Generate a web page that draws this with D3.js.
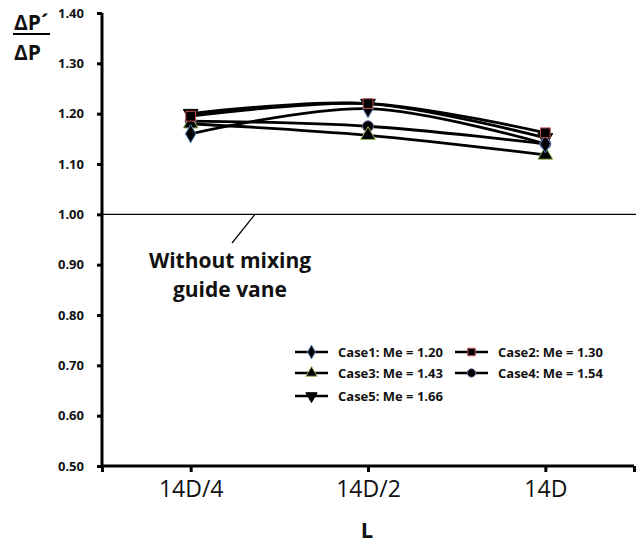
<!DOCTYPE html>
<html>
<head>
<meta charset="utf-8">
<script src="https://cdn.jsdelivr.net/npm/d3@7"></script>
<style>
body { margin: 0; background: #fff; }
svg text { font-family: "Open Sans", Lato, sans-serif; font-weight: bold; fill: #111; }
</style>
</head>
<body>
<div id="chart"></div>
<script>
//Width and height
var width = 636, height = 544;

//Data
var categories = ["14D/4", "14D/2", "14D"];
var yTicks = [0.5, 0.6, 0.7, 0.8, 0.9, 1.0, 1.1, 1.2, 1.3, 1.4];
var case1 = [1.16, 1.21, 1.14];
var case2 = [1.195, 1.22, 1.162];
var case3 = [1.18, 1.157, 1.118];
var case4 = [1.185, 1.175, 1.14];
var case5 = [1.20, 1.22, 1.152];
var seriesNames = ["Case1: Me = 1.20", "Case2: Me = 1.30", "Case3: Me = 1.43", "Case4: Me = 1.54", "Case5: Me = 1.66"];
var seriesValues = [case1, case2, case3, case4, case5];
var markerTypes = [d3.symbolDiamond, d3.symbolSquare, d3.symbolTriangle, d3.symbolCircle, "down"];
var markerEdges = ["#4f81bd", "#c0504d", "#9bbb59", "#8064a2", "#000"];
var baseline = 1.0;

var svg = d3.select("#chart")
            .append("svg")
            .attr("width", width)
            .attr("height", height);

//scales
var x = d3.scaleLinear().domain([0.5, 3.5]).range([102, 634]);
var y = d3.scaleLinear().domain([0.5, 1.4]).range([466, 13]);

//y axis
var yAxis = svg.append("g")
    .attr("transform", "translate(102,0)")
    .call(d3.axisLeft(y).tickValues(yTicks).tickFormat(d3.format(".2f")).tickSize(5).tickPadding(13));
yAxis.select(".domain").attr("stroke-width", 3).attr("d", "M0," + y(1.4) + "V" + y(0.5));
yAxis.selectAll(".tick line").attr("stroke-width", 3);
yAxis.selectAll(".tick text").style("font-size", "13px");

//x axis
var xAxis = svg.append("g")
    .attr("transform", "translate(0,466)")
    .call(d3.axisBottom(x).tickValues([0.5, 1, 2, 3, 3.5]).tickFormat(function(d) {
        return Number.isInteger(d) ? categories[d - 1] : "";
    }).tickSize(6).tickPadding(9));
xAxis.select(".domain").attr("stroke-width", 3).attr("d", "M" + x(0.5) + ",0H" + x(3.5));
xAxis.selectAll(".tick line").attr("stroke-width", 3);
xAxis.selectAll(".tick text").style("font-size", "23px").style("font-weight", "normal");

//baseline without vane
svg.append("line")
    .attr("x1", x(0.5)).attr("x2", width)
    .attr("y1", y(baseline)).attr("y2", y(baseline))
    .attr("stroke", "#000").attr("stroke-width", 1.2);

svg.append("line")
    .attr("x1", 255).attr("y1", y(baseline))
    .attr("x2", 232).attr("y2", 243)
    .attr("stroke", "#000").attr("stroke-width", 1.2);

svg.append("text").attr("x", 230).attr("y", 268).attr("text-anchor", "middle")
    .style("font-size", "21px").text("Without mixing");
svg.append("text").attr("x", 230).attr("y", 297).attr("text-anchor", "middle")
    .style("font-size", "21px").text("guide vane");

//lines
var line = d3.line()
    .x(function(d, i) { return x(i + 1); })
    .y(function(d) { return y(d); })
    .curve(d3.curveCatmullRom.alpha(0.5));

function marker(type, size) {
    if (type === "down") {
        return d3.symbol().type(d3.symbolTriangle).size(size)();
    }
    return d3.symbol().type(type).size(size)();
}

seriesValues.forEach(function(vals, s) {
    svg.append("path")
        .attr("d", line(vals))
        .attr("fill", "none")
        .attr("stroke", "#000")
        .attr("stroke-width", 2.8);
});

[4, 3, 2, 0, 1].forEach(function(s) {
    svg.selectAll(null)
        .data(seriesValues[s])
        .enter()
        .append("path")
        .attr("d", marker(markerTypes[s], 95))
        .attr("transform", function(d, i) {
            return "translate(" + x(i + 1) + "," + y(d) + ")" + (markerTypes[s] === "down" ? " rotate(180)" : "");
        })
        .attr("fill", "#000")
        .attr("stroke", markerEdges[s])
        .attr("stroke-width", 1);
});

//legend
var legendPos = [[295, 352], [455, 352], [295, 373], [455, 373], [295, 396]];
seriesNames.forEach(function(name, s) {
    var g = svg.append("g").attr("transform", "translate(" + legendPos[s][0] + "," + legendPos[s][1] + ")");
    g.append("line").attr("x1", 0).attr("x2", 33).attr("stroke", "#000").attr("stroke-width", 2.5);
    g.append("path")
        .attr("d", marker(markerTypes[s], 55))
        .attr("transform", "translate(16.5,0)" + (markerTypes[s] === "down" ? " rotate(180)" : ""))
        .attr("fill", "#000")
        .attr("stroke", markerEdges[s]);
    g.append("text").attr("x", 43).attr("y", 5).style("font-size", "13px").text(name);
});

//axis titles
svg.append("text").attr("x", 367).attr("y", 538).attr("text-anchor", "middle")
    .style("font-size", "22px").text("L");
svg.append("text").attr("x", 14).attr("y", 30).style("font-size", "21px").text("ΔP´");
svg.append("line").attr("x1", 13).attr("x2", 50).attr("y1", 34).attr("y2", 34)
    .attr("stroke", "#000").attr("stroke-width", 2);
svg.append("text").attr("x", 14).attr("y", 60).style("font-size", "21px").text("ΔP");
</script>
</body>
</html>
